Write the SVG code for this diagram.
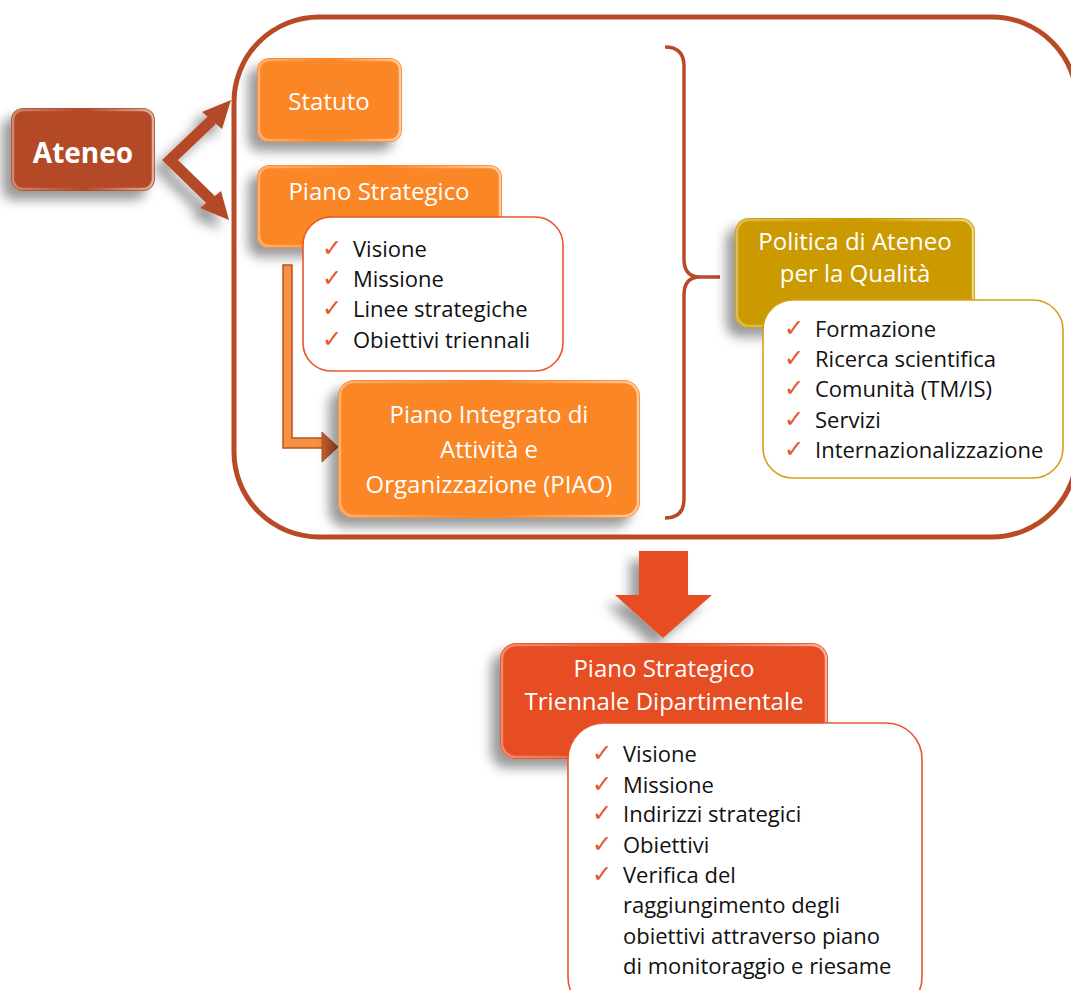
<svg xmlns="http://www.w3.org/2000/svg" width="1071" height="990" viewBox="0 0 1071 990">
  <defs>
    <filter id="shadow" x="-30%" y="-30%" width="160%" height="170%">
      <feGaussianBlur in="SourceAlpha" stdDeviation="6"/>
      <feOffset dx="-9" dy="9" result="blur"/>
      <feFlood flood-color="#000" flood-opacity="0.4"/>
      <feComposite in2="blur" operator="in"/>
      <feMerge>
        <feMergeNode/>
        <feMergeNode in="SourceGraphic"/>
      </feMerge>
    </filter>
    <linearGradient id="gloss" x1="0" y1="0" x2="1" y2="0">
      <stop offset="0" stop-color="#fff" stop-opacity="0.35"/>
      <stop offset="0.5" stop-color="#fff" stop-opacity="0"/>
      <stop offset="1" stop-color="#fff" stop-opacity="0.55"/>
    </linearGradient>
  </defs>
  <style>
    .title { font-family: "Open Sans", "Liberation Sans", sans-serif; font-size: 24px; fill: #fff; text-anchor: middle; }
    .item { font-family: "Open Sans", "Liberation Sans", sans-serif; font-size: 22px; fill: #111; }
    .chk { font-family: "DejaVu Sans", sans-serif; font-size: 24px; }
    .bevel { fill: none; stroke: url(#gloss); stroke-width: 2.5; }
    .list { fill: #fff; stroke-width: 1.6; }
  </style>

  <rect width="1071" height="990" fill="#fff"/>

  <!-- outer container -->
  <g id="container">
    <rect x="234" y="17" width="843" height="520" rx="85" ry="85" fill="none" stroke="#B94A26" stroke-width="5"/>
  </g>

  <!-- connectors -->
  <g id="connectors">
    <g id="ateneo-fork" fill="#B34826" filter="url(#shadow)">
      <path d="M212,120 L170,160 L211,200" fill="none" stroke="#B34826" stroke-width="11" stroke-linejoin="miter"/>
      <polygon points="231,100 202,112 222,129"/>
      <polygon points="229,220 200,208 221,191"/>
    </g>
    <path id="brace" d="M665,47 Q684,47 684,66 L684,259 Q684,277 700,277 L720,277 M700,277 Q684,277 684,295 L684,499 Q684,518 665,518" fill="none" stroke="#B94A26" stroke-width="3.5"/>
    <g id="elbow">
      <path d="M283,265 L292,265 L292,438 L323,438 L323,448 L283,448 Z" fill="#F59141" stroke="#B9502A" stroke-width="1.5"/>
      <polygon points="322,432 338,447 322,462" fill="#C9602A" stroke="#B9502A" stroke-width="1"/>
    </g>
    <polygon id="down-arrow" points="639,551 688,551 688,595 712,595 663,638 615,595 639,595" fill="#E64D22" filter="url(#shadow)"/>
  </g>

  <!-- Ateneo -->
  <g id="ateneo">
    <rect x="11" y="108" width="144" height="83" rx="12" fill="#B34826" filter="url(#shadow)"/>
    <rect x="13" y="110" width="140" height="79" rx="10" class="bevel"/>
    <text x="83" y="163" font-family="'Open Sans', 'Liberation Sans', sans-serif" font-weight="bold" font-size="28" fill="#fff" text-anchor="middle">Ateneo</text>
  </g>

  <!-- Statuto -->
  <g id="statuto">
    <rect x="257" y="58" width="145" height="84" rx="12" fill="#FA8628" filter="url(#shadow)"/>
    <rect x="259" y="60" width="141" height="80" rx="10" class="bevel"/>
    <text x="329" y="110" class="title">Statuto</text>
  </g>

  <!-- Piano Strategico -->
  <g id="piano-strategico">
    <rect x="257" y="165" width="245" height="83" rx="12" fill="#FA8628" filter="url(#shadow)"/>
    <rect x="259" y="167" width="241" height="79" rx="10" class="bevel"/>
    <text x="379" y="200" class="title">Piano Strategico</text>
  </g>

  <!-- Piano Strategico items -->
  <g id="piano-strategico-list">
    <rect x="303" y="217" width="260" height="154" rx="28" class="list" stroke="#E8552B"/>
    <g class="chk" fill="#E8552B">
      <text x="322" y="256">✓</text>
      <text x="322" y="286">✓</text>
      <text x="322" y="316">✓</text>
      <text x="322" y="347">✓</text>
    </g>
    <text x="353" y="257" class="item">Visione</text>
    <text x="353" y="287" class="item">Missione</text>
    <text x="353" y="317" class="item">Linee strategiche</text>
    <text x="353" y="348" class="item">Obiettivi triennali</text>
  </g>

  <!-- PIAO -->
  <g id="piao">
    <rect x="338" y="380" width="302" height="138" rx="16" fill="#FA8628" filter="url(#shadow)"/>
    <rect x="340" y="382" width="298" height="134" rx="14" class="bevel"/>
    <text x="489" y="423" class="title">Piano Integrato di</text>
    <text x="489" y="458" class="title">Attività e</text>
    <text x="489" y="493" class="title">Organizzazione (PIAO)</text>
  </g>

  <!-- Politica di Ateneo per la Qualità -->
  <g id="politica">
    <rect x="735" y="218" width="240" height="110" rx="14" fill="#CB9A05" filter="url(#shadow)"/>
    <rect x="737" y="220" width="236" height="106" rx="12" class="bevel"/>
    <text x="855" y="250" class="title">Politica di Ateneo</text>
    <text x="855" y="282" class="title">per la Qualità</text>
  </g>

  <g id="politica-list">
    <rect x="763" y="300" width="300" height="178" rx="30" class="list" stroke="#D4A017"/>
    <g class="chk" fill="#E8552B">
      <text x="784" y="336">✓</text>
      <text x="784" y="366">✓</text>
      <text x="784" y="396">✓</text>
      <text x="784" y="427">✓</text>
      <text x="784" y="457">✓</text>
    </g>
    <text x="815" y="337" class="item">Formazione</text>
    <text x="815" y="367" class="item">Ricerca scientifica</text>
    <text x="815" y="397" class="item">Comunità (TM/IS)</text>
    <text x="815" y="428" class="item">Servizi</text>
    <text x="815" y="458" class="item">Internazionalizzazione</text>
  </g>

  <!-- Piano Strategico Triennale Dipartimentale -->
  <g id="piano-dipartimentale">
    <rect x="500" y="643" width="328" height="116" rx="16" fill="#E64D22" filter="url(#shadow)"/>
    <rect x="502" y="645" width="324" height="112" rx="14" class="bevel"/>
    <text x="664" y="677" class="title">Piano Strategico</text>
    <text x="664" y="710" class="title">Triennale Dipartimentale</text>
  </g>

  <g id="piano-dipartimentale-list">
    <rect x="568" y="723" width="354" height="290" rx="36" class="list" stroke="#E8552B"/>
    <g class="chk" fill="#E8552B">
      <text x="592" y="761">✓</text>
      <text x="592" y="792">✓</text>
      <text x="592" y="821">✓</text>
      <text x="592" y="852">✓</text>
      <text x="592" y="882">✓</text>
    </g>
    <text x="623" y="762" class="item">Visione</text>
    <text x="623" y="793" class="item">Missione</text>
    <text x="623" y="822" class="item">Indirizzi strategici</text>
    <text x="623" y="853" class="item">Obiettivi</text>
    <text x="623" y="883" class="item">Verifica del</text>
    <text x="623" y="913" class="item">raggiungimento degli</text>
    <text x="623" y="944" class="item">obiettivi attraverso piano</text>
    <text x="623" y="974" class="item">di monitoraggio e riesame</text>
  </g>
</svg>
